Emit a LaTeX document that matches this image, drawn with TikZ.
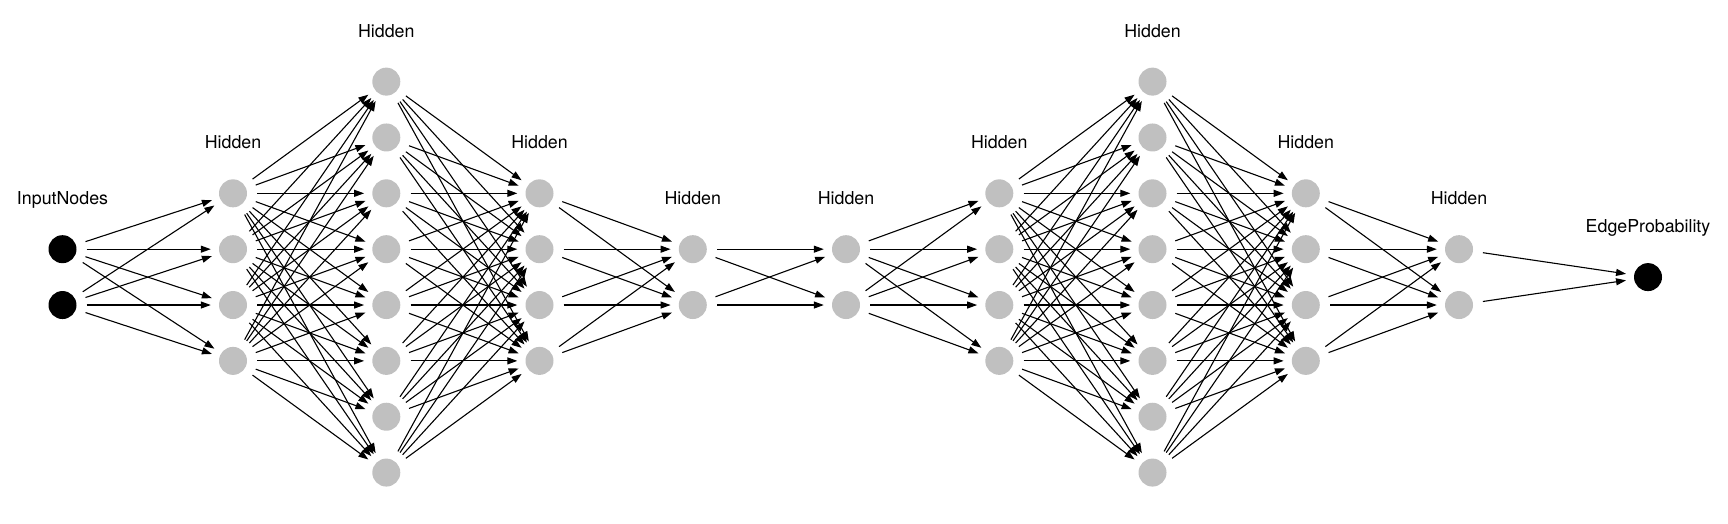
\documentclass[tikz,border=0pt]{standalone}
\usepackage{fontspec}
\setmainfont{TeX Gyre Heros}
\usetikzlibrary{arrows.meta}
\definecolor{nodegray}{RGB}{192,192,192}
\begin{document}
\begin{tikzpicture}[x=1pt,y=-1pt,
  neuron/.style={circle,fill=nodegray,minimum size=28pt,inner sep=0pt},
  ionode/.style={circle,fill=black,minimum size=28pt,inner sep=0pt},
  conn/.style={line width=1.1pt,-{Triangle[length=10pt,width=7pt]},shorten >=8pt,shorten <=10pt},
  lbl/.style={anchor=base,font=\fontsize{17.8}{20}\selectfont,inner sep=0pt}]
\useasboundingbox (0,0) rectangle (1728,524);
\foreach \i/\x/\n/\t/\s in {0/62.5/2/InputNodes/ionode,1/233/4/Hidden/neuron,2/386.3/8/Hidden/neuron,3/539.5/4/Hidden/neuron,4/692.8/2/Hidden/neuron,5/846/2/Hidden/neuron,6/999.3/4/Hidden/neuron,7/1152.5/8/Hidden/neuron,8/1305.8/4/Hidden/neuron,9/1459/2/Hidden/neuron,10/1648/1/EdgeProbability/ionode} {
  \foreach \j in {1,...,\n} {
    \pgfmathsetmacro\yy{277.1+(\j-(\n+1)/2)*55.85}
    \node[\s] (L\i-\j) at (\x,\yy) {};
  }
  \pgfmathsetmacro\ly{277.1-(\n-1)/2*55.85-44.5}
  \node[lbl] (T\i) at (\x,\ly) {\t};
}
\foreach \a/\b/\na/\nb in {0/1/2/4,1/2/4/8,2/3/8/4,3/4/4/2,4/5/2/2,5/6/2/4,6/7/4/8,7/8/8/4,8/9/4/2,9/10/2/1} {
  \foreach \p in {1,...,\na} {
    \foreach \q in {1,...,\nb} {
      \draw[conn] (L\a-\p) -- (L\b-\q);
    }
  }
}
\end{tikzpicture}
\end{document}
